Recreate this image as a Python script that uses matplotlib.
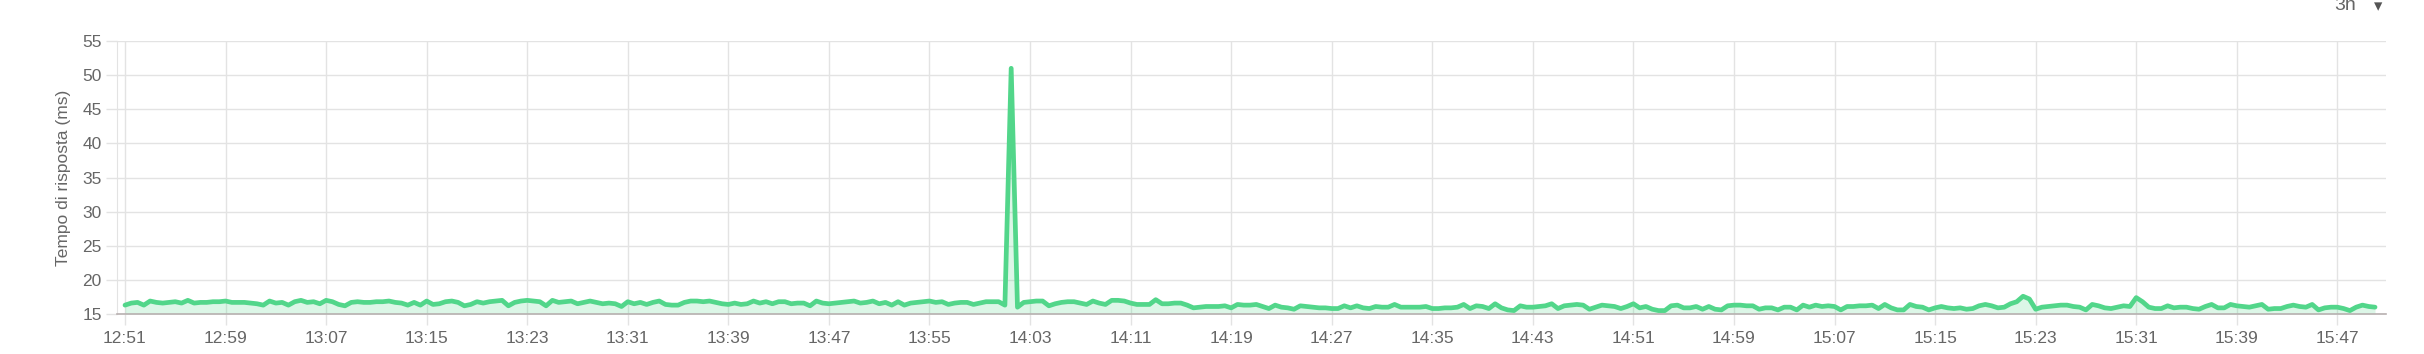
import matplotlib
matplotlib.use("Agg")
import matplotlib.pyplot as plt

# Response time samples, every 30 s starting at 12:51
response_ms = [
    16.3, 16.6, 16.7, 16.3, 16.9, 16.7, 16.6, 16.7, 16.8, 16.6,
    17.0, 16.6, 16.7, 16.7, 16.8, 16.8, 16.9, 16.7, 16.7, 16.7,
    16.6, 16.5, 16.3, 16.9, 16.6, 16.7, 16.3, 16.8, 17.0, 16.7,
    16.8, 16.5, 17.0, 16.8, 16.4, 16.2, 16.7, 16.8, 16.7, 16.7,
    16.8, 16.8, 16.9, 16.7, 16.6, 16.3, 16.7, 16.3, 16.9, 16.4,
    16.5, 16.8, 16.9, 16.7, 16.2, 16.4, 16.8, 16.6, 16.8, 16.9,
    17.0, 16.2, 16.7, 16.9, 17.0, 16.9, 16.8, 16.2, 17.0, 16.7,
    16.8, 16.9, 16.5, 16.7, 16.9, 16.7, 16.5, 16.6, 16.5, 16.1,
    16.8, 16.5, 16.7, 16.4, 16.7, 16.9, 16.4, 16.3, 16.3, 16.7,
    16.9, 16.9, 16.8, 16.9, 16.7, 16.5, 16.4, 16.6, 16.4, 16.5,
    16.9, 16.6, 16.8, 16.5, 16.8, 16.8, 16.5, 16.6, 16.6, 16.2,
    16.9, 16.6, 16.5, 16.6, 16.7, 16.8, 16.9, 16.6, 16.7, 16.9,
    16.5, 16.7, 16.3, 16.8, 16.3, 16.6, 16.7, 16.8, 16.9, 16.7,
    16.8, 16.4, 16.6, 16.7, 16.7, 16.4, 16.6, 16.8, 16.8, 16.8,
    16.3, 51.0, 16.0, 16.7, 16.8, 16.9, 16.9, 16.2, 16.5, 16.7,
    16.8, 16.8, 16.6, 16.4, 16.9, 16.6, 16.4, 17.0, 17.0, 16.9,
    16.6, 16.4, 16.4, 16.4, 17.1, 16.5, 16.5, 16.6, 16.6, 16.3,
    15.9, 16.0, 16.1, 16.1, 16.1, 16.2, 15.9, 16.4, 16.3, 16.3,
    16.4, 16.1, 15.8, 16.3, 16.0, 15.9, 15.7, 16.2, 16.1, 16.0,
    15.9, 15.9, 15.8, 15.8, 16.2, 15.9, 16.2, 15.9, 15.8, 16.1,
    16.0, 16.0, 16.4, 16.0, 16.0, 16.0, 16.0, 16.1, 15.8, 15.8,
    15.9, 15.9, 16.0, 16.4, 15.8, 16.2, 16.1, 15.8, 16.5, 15.9,
    15.6, 15.5, 16.2, 16.0, 16.0, 16.1, 16.2, 16.5, 15.8, 16.2,
    16.3, 16.4, 16.3, 15.7, 16.0, 16.3, 16.2, 16.1, 15.8, 16.1,
    16.5, 15.9, 16.1, 15.7, 15.5, 15.5, 16.2, 16.3, 15.9, 15.9,
    16.1, 15.7, 16.1, 15.7, 15.6, 16.2, 16.3, 16.3, 16.2, 16.2,
    15.7, 15.9, 15.9, 15.6, 16.0, 16.0, 15.6, 16.3, 16.0, 16.3,
    16.1, 16.2, 16.1, 15.6, 16.1, 16.1, 16.2, 16.2, 16.3, 15.8,
    16.4, 15.9, 15.6, 15.6, 16.4, 16.1, 16.0, 15.6, 15.9, 16.1,
    15.9, 15.8, 15.9, 15.7, 15.8, 16.2, 16.4, 16.2, 15.9, 16.0,
    16.5, 16.8, 17.6, 17.2, 15.7, 16.0, 16.1, 16.2, 16.3, 16.3,
    16.1, 16.0, 15.6, 16.4, 16.2, 15.9, 15.8, 16.0, 16.2, 16.1,
    17.4, 16.8, 16.0, 15.8, 15.8, 16.2, 15.9, 16.0, 16.0, 15.8,
    15.7, 16.1, 16.4, 15.9, 15.9, 16.4, 16.2, 16.1, 16.0, 16.2,
    16.4, 15.7, 15.8, 15.8, 16.1, 16.3, 16.1, 16.0, 16.4, 15.6,
    15.9, 16.0, 16.0, 15.8, 15.5, 16.0, 16.3, 16.1, 16.0,
]
sample_step_min = 0.5
start_label = "12:51"
tick_labels = ["12:51", "12:59", "13:07", "13:15", "13:23", "13:31", "13:39",
               "13:47", "13:55", "14:03", "14:11", "14:19", "14:27", "14:35",
               "14:43", "14:51", "14:59", "15:07", "15:15", "15:23", "15:31",
               "15:39", "15:47"]
y_ticks = [15, 20, 25, 30, 35, 40, 45, 50, 55]
y_label = "Tempo di risposta (ms)"
range_label = "3h"


def to_min(lbl):
    h, m = lbl.split(":")
    return int(h) * 60 + int(m)


t0 = to_min(start_label)
times = [i * sample_step_min for i in range(len(response_ms))]
tick_pos = [to_min(l) - t0 for l in tick_labels]

plt.rcParams['font.family'] = ['Liberation Sans', 'DejaVu Sans']

W, H = 2424, 354
fig = plt.figure(figsize=(W / 100, H / 100), dpi=100)
fig.patch.set_facecolor("white")

left, right, top, bottom = 117, 2386, 41, 314
ax = fig.add_axes([left / W, 1 - bottom / H, (right - left) / W, (bottom - top) / H])

px_per_min = 12.57
ax.set_xlim(-(125 - left) / px_per_min, (right - 125) / px_per_min)
ax.set_ylim(15, 55)

line_col = "#52d68a"
ax.fill_between(times, response_ms, 15, color=line_col, alpha=0.2, lw=0, zorder=2)
ax.plot(times, response_ms, color=line_col, lw=3.4, solid_joinstyle="round",
        solid_capstyle="round", zorder=3, clip_on=False)

grid_col = "#e3e3e3"
ax.set_xticks(tick_pos)
ax.set_xticklabels(tick_labels)
ax.set_yticks(y_ticks)
ax.set_yticklabels([str(v) for v in y_ticks])
ax.grid(True, color=grid_col, lw=1.0, zorder=0)
ax.tick_params(axis="both", colors=grid_col, labelcolor="#666666",
               labelsize=12.5, length=8, width=1.0)
ax.tick_params(axis="x", pad=4)
ax.tick_params(axis="y", pad=3)

for s in ["top", "right"]:
    ax.spines[s].set_visible(False)
ax.spines["left"].set_color(grid_col)
ax.spines["bottom"].set_color("#b8b0b0")
ax.spines["bottom"].set_linewidth(1.2)

ax.set_ylabel(y_label, color="#666666", fontsize=12.5, labelpad=8)

fig.text(2345 / W, 1 - 5 / H, range_label, ha="center", va="center",
         color="#666666", fontsize=14)
fig.text(2378 / W, 1 - 6 / H, "\u25be", ha="center", va="center",
         color="#555555", fontsize=12, family=["DejaVu Sans"])

fig.savefig("out.png", dpi=100, facecolor="white")
